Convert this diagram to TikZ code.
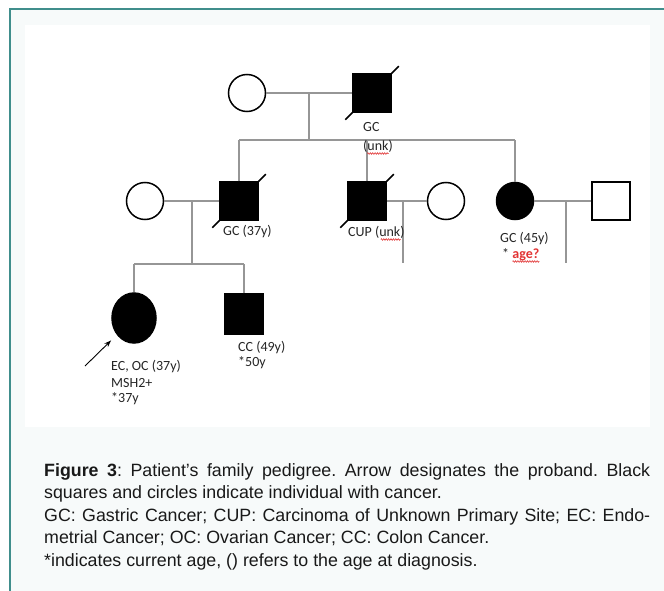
\documentclass[tikz,border=0pt]{standalone}
\usepackage{fontspec}
\setmainfont{Liberation Sans}
\newfontfamily\pedfont{Carlito}
\usetikzlibrary{shapes.geometric, arrows.meta, calc, decorations.pathmorphing}

\definecolor{frameteal}{RGB}{64,142,140}
\definecolor{pagetint}{RGB}{247,250,250}
\definecolor{famgray}{RGB}{150,150,150}
\definecolor{spellred}{RGB}{226,52,52}
\frenchspacing

\begin{document}
\begin{tikzpicture}[x=1pt, y=-1pt,
		sqbox/.style={rectangle, draw=black, line width=1.5pt, minimum size=38pt, inner sep=0pt},
		cibox/.style={circle, draw=black, line width=1.5pt, minimum size=37pt, inner sep=0pt},
		affected/.style={fill=black},
		healthy/.style={fill=white},
		famline/.style={draw=famgray, line width=1.1pt},
		deadmark/.style={draw=black, line width=1.6pt},
		pedtext/.style={font=\pedfont\fontsize{14}{16}\selectfont, text=black!85, inner sep=0pt, anchor=base west},
		captext/.style={font=\fontsize{17.8}{22.5}\selectfont, text=black!90, inner sep=0pt, anchor=base west},
		spell/.style={draw=spellred, line width=0.6pt, decorate, decoration={zigzag, segment length=2.4pt, amplitude=0.8pt}}]
		\useasboundingbox (0,0) rectangle (664,591);

		% Page and frame
		\fill[white] (0,0) rectangle (664,591);
		\fill[pagetint] (10,10) rectangle (664,591);
		\fill[white] (25,25) rectangle (650,427);
		\draw[frameteal, line width=2pt] (9.5,591) -- (9.5,9.5) -- (664,9.5);

		% Define the macro.
		% 1st argument: name of the node of a deceased individual (slash through it).
		\newcommand{\deceasedmark}[1]{
			\draw[deadmark] ($(#1.south west)+(-7,7)$) -- ($(#1.north east)+(7,-7)$);
		}

		% GENERATION I
		\node[cibox, healthy] (gm) at (247,93) {};
		\node[sqbox, affected] (gf) at (372,93) {};
		\deceasedmark{gf}
		\draw[famline] (gm) -- (gf);
		\coordinate (m1) at (309,93);
		\coordinate (sib1) at (309,140);
		\draw[famline] (m1) -- (sib1);

		% GENERATION II
		\node[cibox, healthy] (w1) at (145,201) {};
		\node[sqbox, affected] (s1) at (239,201) {};
		\node[sqbox, affected] (s2) at (367,201) {};
		\node[cibox, healthy] (w2) at (446,201) {};
		\node[cibox, affected] (d1) at (515,201) {};
		\node[sqbox, healthy] (h1) at (611,201) {};
		\deceasedmark{s1}
		\deceasedmark{s2}
		\draw[famline] (s1 |- sib1) -- (d1 |- sib1);
		\foreach \who in {s1,s2,d1}
			\draw[famline] (\who) -- (\who |- sib1);
		\draw[famline] (w1) -- (s1);
		\draw[famline] (s2) -- (w2);
		\draw[famline] (d1) -- (h1);
		\coordinate (m2) at (192,201);
		\coordinate (sib2) at (192,264);
		\draw[famline] (m2) -- (sib2);
		\coordinate (m3) at (403,201);
		\coordinate (m3end) at (403,263);
		\draw[famline] (m3) -- (m3end);
		\coordinate (m4) at (566,201);
		\coordinate (m4end) at (566,263);
		\draw[famline] (m4) -- (m4end);

		% GENERATION III
		\node[ellipse, draw=black, line width=1.5pt, affected, minimum width=44pt, minimum height=50pt, inner sep=0pt] (pb) at (134,318) {};
		\node[sqbox, affected, minimum height=40pt] (s3) at (244,314) {};
		\draw[famline] (pb |- sib2) -- (s3 |- sib2);
		\foreach \who in {pb,s3}
			\draw[famline] (\who) -- (\who |- sib2);
		\coordinate (arr) at (85,366);
		\draw[-{Stealth[length=7pt,width=5pt]}, line width=0.9pt, shorten >=8pt] (arr) -- (pb);

		% Labels
		\node[pedtext] (gfLa) at (363,131.5) {GC};
		\node[pedtext] (gfLb) at (363,150.5) {(unk)};
		\draw[spell] ($(gfLb.base west)+(4.3,3)$) -- ($(gfLb.base east)+(-4.3,3)$);
		\node[pedtext] (s1L) at (223,235.5) {GC (37y)};
		\node[pedtext] (s2L) at (348,236.5) {CUP (unk)};
		\draw[spell] ($(s2L.base east)+(-24,3)$) -- ($(s2L.base east)+(-4.3,3)$);
		\node[pedtext] (d1La) at (500,242.5) {GC (45y)};
		\node[pedtext] (d1Lb) at (502,258.5) {* \textcolor{spellred}{\bfseries age?}};
		\draw[spell] ($(d1Lb.base west)+(10.5,3)$) -- ($(d1Lb.base east)+(0,3)$);
		\node[pedtext] (pbLa) at (111,370.5) {EC, OC (37y)};
		\node[pedtext] (pbLb) at (111,387) {MSH2+};
		\node[pedtext] (pbLc) at (111,402.5) {*37y};
		\node[pedtext] (s3La) at (238,351.5) {CC (49y)};
		\node[pedtext] (s3Lb) at (238,366.5) {*50y};

		% Caption
		\node[captext] (cap1) at (44,476) {\makebox[606pt][s]{\textbf{Figure 3}: Patient’s family pedigree. Arrow designates the proband. Black}};
		\node[captext] (cap2) at (44,498.5) {squares and circles indicate individual with cancer.};
		\node[captext] (cap3) at (44,521) {\makebox[606pt][s]{GC: Gastric Cancer; CUP: Carcinoma of Unknown Primary Site; EC: Endo-}};
		\node[captext] (cap4) at (44,543.5) {metrial Cancer; OC: Ovarian Cancer; CC: Colon Cancer.};
		\node[captext] (cap5) at (44,566) {*indicates current age, () refers to the age at diagnosis.};
\end{tikzpicture}
\end{document}
